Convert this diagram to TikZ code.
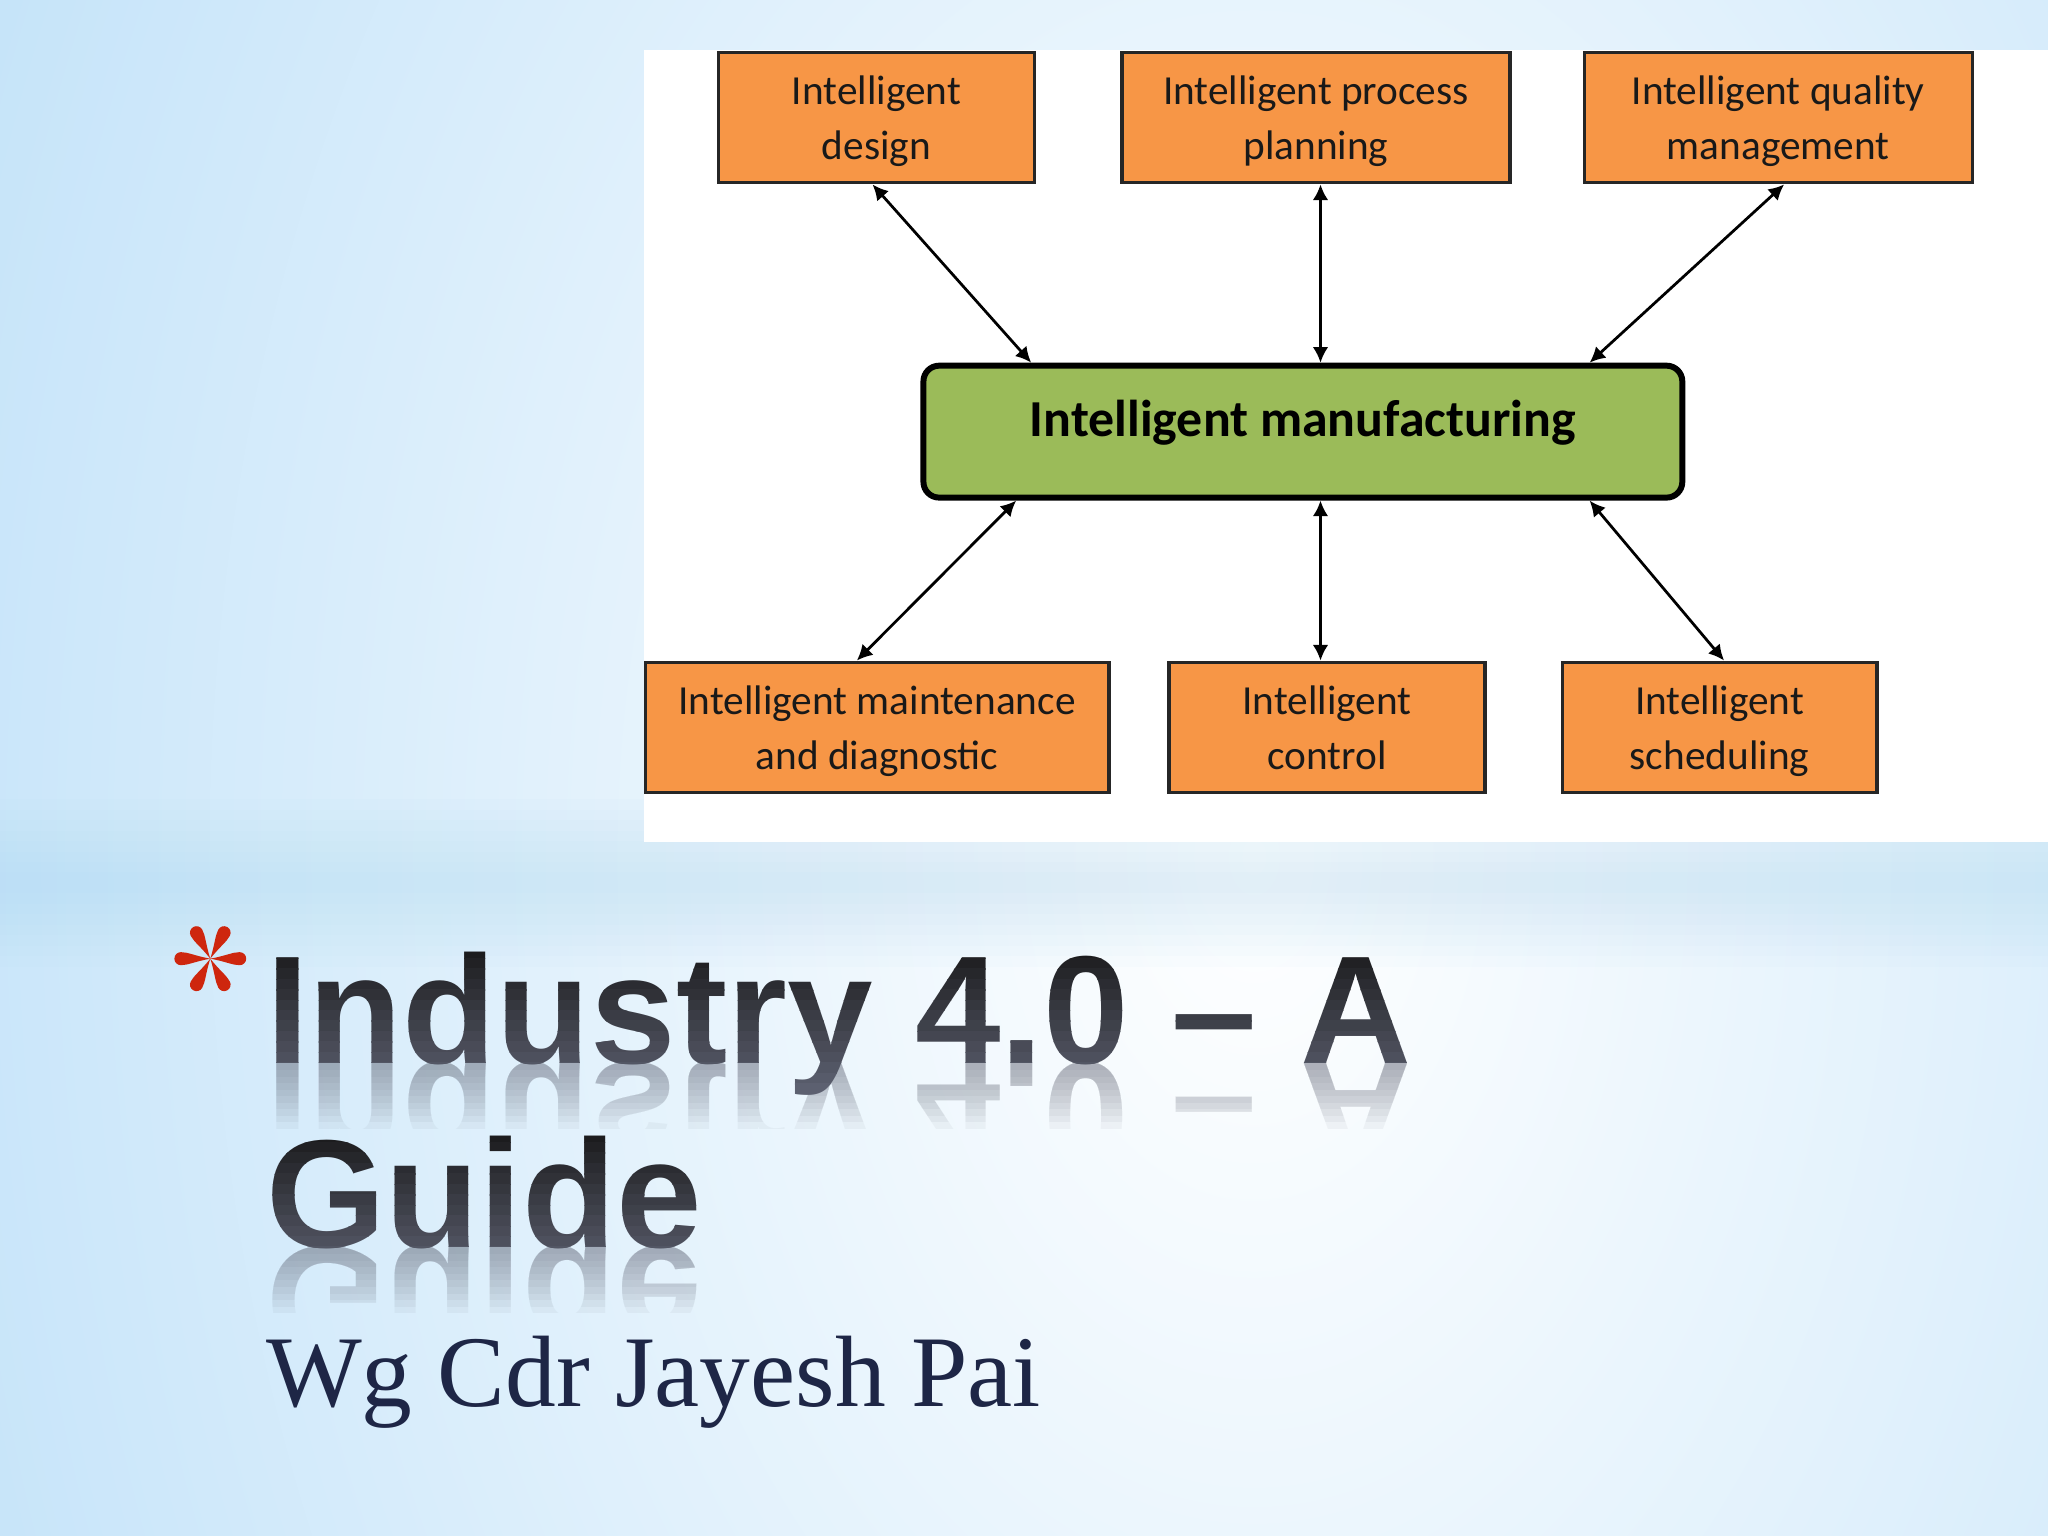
\documentclass[tikz,border=0pt]{standalone}
\usepackage{fontspec}
\newfontfamily\boxfont{Carlito}
\newfontfamily\headfont{Liberation Sans}
\newfontfamily\namefont{Liberation Serif}
\usetikzlibrary{calc,arrows.meta}

\definecolor{bgblue}{RGB}{168,214,246}
\definecolor{boxorange}{RGB}{247,150,70}
\definecolor{coregreen}{RGB}{155,187,89}
\definecolor{starred}{RGB}{206,38,14}
\definecolor{headtop}{RGB}{28,28,30}
\definecolor{headbot}{RGB}{92,96,112}
\definecolor{namenavy}{RGB}{30,38,70}

\tikzset{
  funcbox/.style={draw=black!85, line width=0.7pt, fill=boxorange, minimum height=1cm, inner sep=0pt,
    align=center, text depth=0pt, text=black!90, font=\boxfont\fontsize{9}{12}\selectfont},
  corebox/.style={draw=black, line width=1.3pt, fill=coregreen, rounded corners=0.12cm,
    minimum width=5.81cm, minimum height=1.01cm, text height=7.7pt, text depth=5.5pt,
    font=\boxfont\bfseries\fontsize{11.3}{13}\selectfont},
  link/.style={line width=0.6pt, {Latex[length=3.4pt,width=3.4pt]}-{Latex[length=3.4pt,width=3.4pt]}},
  headline/.style={anchor=base west, inner sep=0pt, font=\headfont\bfseries\fontsize{33.5}{40}\selectfont},
}

% title line: stacked faint mirror copies, then a face in thin strips going dark to grey
\newcommand{\glossyline}[3]{%
  \foreach \k in {1,...,10}{
    \begin{scope}
      \clip (0,#2) rectangle (15.68,#2-0.05*\k);
      \node[headline, opacity=0.058, yscale=-1, transform shape, text=headbot] (#1r\k) at (2.03,#2) {#3};
    \end{scope}
  }
  \foreach \k [evaluate=\k as \mix using {int(100-\k*100/13)}] in {0,...,13}{
    \begin{scope}
      \clip (1.5,#2+0.88-0.08*\k-0.08) rectangle (12,#2+0.88-0.08*\k+0.003);
      \node[headline, text=headtop!\mix!headbot] (#1\k) at (2.03,#2) {#3};
    \end{scope}
  }
}

\begin{document}
\begin{tikzpicture}
  % \draw[step=1.0,thin,gray!40] (0,0) grid (16,12);
  \useasboundingbox (0,0) rectangle (15.68,11.76);

  \begin{scope}
    \clip (0,0) rectangle (15.68,11.76);
    \fill[bgblue] (0,0) rectangle (15.68,11.76);
    \shade[inner color=white, outer color=bgblue] (9.6,5.2) ellipse [x radius=16cm, y radius=24cm];
    \foreach \k in {1,...,8}
      \fill[bgblue, opacity=0.045] (0,5.0-0.08*\k) rectangle (15.68,5.0+0.08*\k);
    \fill[white] (4.93,5.31) rectangle (15.68,11.38);
  \end{scope}

  \node[funcbox, minimum width=2.42cm] (design)  at (6.71,10.86)   {Intelligent\\design};
  \node[funcbox, minimum width=2.97cm] (process) at (10.075,10.86) {Intelligent process\\planning};
  \node[funcbox, minimum width=2.97cm] (quality) at (13.615,10.86) {Intelligent quality\\management};
  \node[corebox] (core) at (9.975,8.455) {Intelligent manufacturing};
  \node[funcbox, minimum width=3.55cm] (maint)   at (6.715,6.19)   {Intelligent maintenance\\and diagnostic};
  \node[funcbox, minimum width=2.42cm] (control) at (10.16,6.19)   {Intelligent\\control};
  \node[funcbox, minimum width=2.41cm] (sched)   at (13.165,6.19)  {Intelligent\\scheduling};

  \draw[link] ([xshift=-0.03cm]design.south) -- ([xshift=-2.08cm]core.north);
  \draw[link] ([xshift=0.035cm]process.south) -- ([xshift=0.135cm]core.north);
  \draw[link] ([xshift=0.045cm]quality.south) -- ([xshift=2.195cm]core.north);
  \draw[link] ([xshift=-2.195cm]core.south) -- ([xshift=-0.155cm]maint.north);
  \draw[link] ([xshift=0.135cm]core.south) -- ([xshift=-0.05cm]control.north);
  \draw[link] ([xshift=2.195cm]core.south) -- ([xshift=0.035cm]sched.north);

  \begin{scope}[shift={(1.61,4.42)}]
    \foreach \a in {0,62,118,180,242,298}
      \fill[starred, rotate=\a] (0,0) .. controls (0.12,0.022) and (0.17,0.05) .. (0.225,0.05)
        arc[start angle=90, end angle=-90, radius=0.05] .. controls (0.17,-0.05) and (0.12,-0.022) .. (0,0);
  \end{scope}

  \glossyline{headA}{3.62}{Industry 4.0 – A}
  \glossyline{headB}{2.21}{Guide}

  \node[anchor=base west, inner sep=0pt, text=namenavy, font=\namefont\fontsize{22.1}{26}\selectfont]
    (author) at (2.03,0.99) {Wg Cdr Jayesh Pai};
\end{tikzpicture}
\end{document}
